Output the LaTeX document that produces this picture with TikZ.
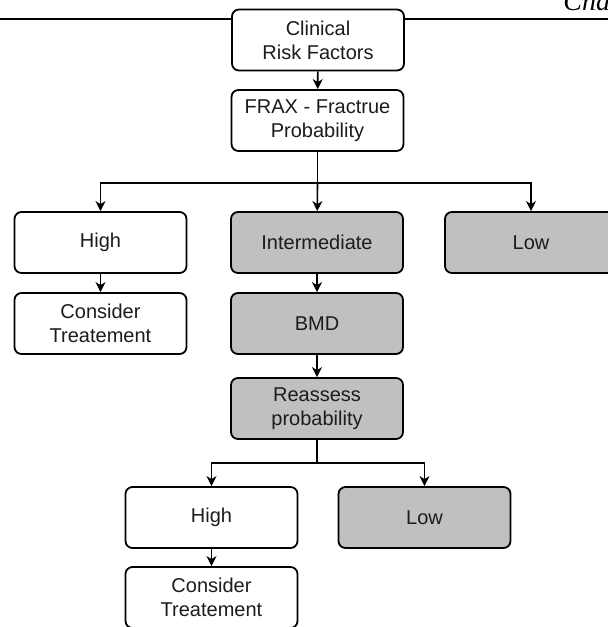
\documentclass[tikz,border=0pt]{standalone}
\usepackage{fontspec}
\setmainfont{Liberation Sans}
\newfontfamily\headfont{Liberation Serif}
\usetikzlibrary{arrows.meta}

\definecolor{boxgray}{RGB}{192,192,192}
\definecolor{inkgray}{RGB}{28,28,28}

\tikzset{
    box/.style={rectangle, rounded corners=3.5pt, draw=black, line width=0.9pt, fill=white,
        minimum width=86pt, minimum height=30.5pt, inner sep=0pt, align=center,
        text=inkgray, font=\fontsize{10}{12}\selectfont},
    greybox/.style={box, fill=boxgray},
    link/.style={line width=0.8pt},
    arr/.style={link, -{Stealth[length=5pt,width=5pt,inset=1.5pt]}},
}

\begin{document}
\begin{tikzpicture}[x=0.5pt,y=-0.5pt]
    \clip (0,0) rectangle (608,627);

    % Page rule and running head
    \draw[line width=0.6pt] (0,19) -- (608,19);
    \node[anchor=base west, inner sep=0pt, font=\headfont\itshape\fontsize{14}{16}\selectfont] (head) at (563,10) {Cha};

    % Top of the chart
    \node[box] (crf) at (318,40) {Clinical\\Risk Factors};
    \node[box] (frax) at (317.5,120.5) {FRAX - Fractrue\\Probability};

    % First split
    \node[box] (high) at (100.5,242.5) {High};
    \node[greybox] (inter) at (317,242.5) {Intermediate};
    \node[greybox] (low) at (531,242.5) {Low};

    \node[box] (treat) at (100.5,323.5) {Consider\\Treatement};
    \node[greybox] (bmd) at (317,323.5) {BMD};

    \node[greybox] (reass) at (317,408.5) {Reassess\\probability};

    % Second split
    \node[box] (high2) at (211.5,517.5) {High};
    \node[greybox] (low2) at (424.5,517.5) {Low};

    \node[box] (treat2) at (211.5,597.5) {Consider\\Treatement};

    \coordinate (split1) at (317.5,183);
    \coordinate (split2) at (317,463);

    \draw[arr] (crf) -- (frax);
    \draw[link] (frax) -- (split1);
    \draw[arr] (split1) -| (high);
    \draw[arr] (split1) -- (inter);
    \draw[arr] (split1) -| (low);

    \draw[arr] (high) -- (treat);
    \draw[arr] (inter) -- (bmd);
    \draw[arr] (bmd) -- (reass);

    \draw[link] (reass) -- (split2);
    \draw[arr] (split2) -| (high2);
    \draw[arr] (split2) -| (low2);
    \draw[arr] (high2) -- (treat2);

\end{tikzpicture}
\end{document}
